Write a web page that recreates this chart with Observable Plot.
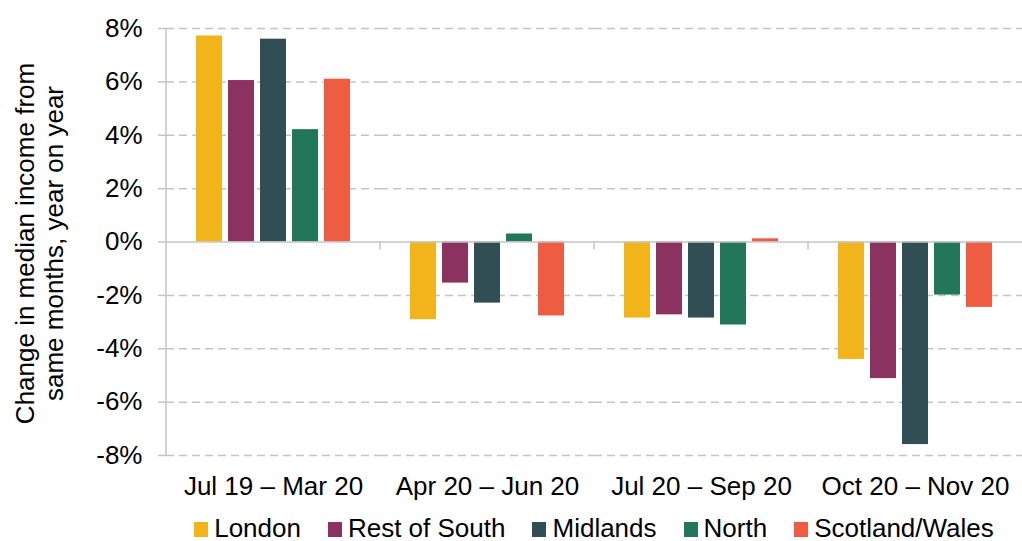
<!DOCTYPE html>
<html><head><meta charset="utf-8">
<script src="https://cdn.jsdelivr.net/npm/d3@7"></script>
<script src="https://cdn.jsdelivr.net/npm/@observablehq/plot@0.6"></script>
<style>
body{margin:0;background:#fff;font-family:"Liberation Sans",Arial,sans-serif;}
#legend{display:flex;justify-content:center;align-items:baseline;margin-left:166px;margin-top:6px;gap:27px;font-size:26px;color:#000;line-height:30px;height:28px;}
#legend .item{display:flex;align-items:baseline;}
#legend .sw{display:inline-block;width:14px;height:15px;margin-right:6px;}
</style></head><body><div id="chart"></div><div id="legend"></div><script>
const periods = ["Jul 19 \u2013 Mar 20", "Apr 20 \u2013 Jun 20", "Jul 20 \u2013 Sep 20", "Oct 20 \u2013 Nov 20"];
const regions = ["London", "Rest of South", "Midlands", "North", "Scotland/Wales"];
const colors = ["#f1b41a", "#8c3261", "#314e55", "#22775a", "#ee5c42"];
const london = [7.72, -2.91, -2.85, -4.40];
const restOfSouth = [6.05, -1.54, -2.73, -5.12];
const midlands = [7.60, -2.29, -2.85, -7.59];
const north = [4.21, 0.30, -3.11, -1.99];
const scotlandWales = [6.10, -2.77, 0.12, -2.45];
const yTicks = [-8, -6, -4, -2, 0, 2, 4, 6, 8];
const yTitle = ["Change in median income from", "same months, year on year"];

const series = [london, restOfSouth, midlands, north, scotlandWales];
const data = periods.flatMap((p, i) => regions.map((r, j) => ({period: p, region: r, value: series[j][i]})));

const grey = "#c4c4c4";

const chart = Plot.plot({
  width: 1022,
  height: 507,
  marginLeft: 166,
  marginRight: 0,
  marginTop: 28,
  marginBottom: 52,
  style: {fontFamily: "Liberation Sans, Arial, sans-serif", fontSize: "26px", color: "#000", background: "#fff"},
  fx: {domain: periods, padding: 0, label: null},
  x: {domain: regions, paddingInner: 0.2, paddingOuter: 0.9, axis: null},
  y: {domain: [-8, 8], label: null},
  color: {domain: regions, range: colors},
  marks: [
    Plot.ruleY(yTicks.filter(d => d !== 0), {stroke: grey, strokeWidth: 1.5, strokeDasharray: "8,5"}),
    Plot.barY(data, {fx: "period", x: "region", y: "value", fill: "region"}),
    Plot.ruleY([0], {stroke: grey, strokeWidth: 1.5}),
    Plot.axisY({ticks: yTicks, tickFormat: d => d + "%", tickSize: 8, tickPadding: 16, stroke: grey, strokeWidth: 1.5, fontSize: 26, label: null}),
    Plot.axisFx({anchor: "bottom", tickSize: 0, tickPadding: 21, fontSize: 26, label: null})
  ]
});

const svg = d3.select(chart);
const fxS = chart.scale("fx");
const yS = chart.scale("y");
const lines = svg.append("g").attr("stroke", grey).attr("stroke-width", 1.5);
const x0 = fxS.apply(periods[0]);
lines.append("line").attr("x1", x0).attr("x2", x0).attr("y1", yS.apply(8)).attr("y2", yS.apply(-8));
for (const p of periods.slice(1)) {
  const xp = fxS.apply(p);
  lines.append("line").attr("x1", xp).attr("x2", xp).attr("y1", yS.apply(0)).attr("y2", yS.apply(0) + 8);
}

const t = svg.append("text")
  .attr("transform", "translate(33.5,243.5) rotate(-90)")
  .attr("text-anchor", "middle")
  .attr("font-size", 26)
  .attr("fill", "#000");
yTitle.forEach((line, i) => t.append("tspan").attr("x", 0).attr("dy", i === 0 ? 0 : 29.5).text(line));

document.getElementById("chart").appendChild(chart);

const legend = d3.select("#legend");
regions.forEach((r, i) => {
  const it = legend.append("div").attr("class", "item");
  it.append("span").attr("class", "sw").style("background", colors[i]);
  it.append("span").text(r);
});
</script></body></html>
